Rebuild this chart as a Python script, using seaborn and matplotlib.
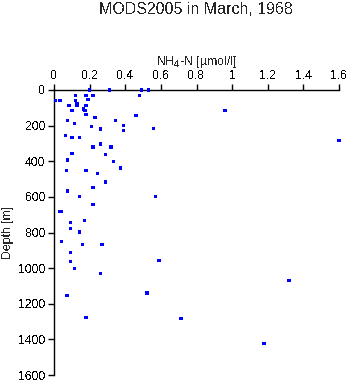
import matplotlib
matplotlib.use("Agg")
import matplotlib.pyplot as plt
import seaborn as sns
import pandas as pd

# NH4-N concentration (umol/l) and sampling depth (m)
nh4 = [0.20, 0.31, 0.49, 0.53, 0.12, 0.18, 0.22, 0.48, 0.01, 0.034,
       0.12, 0.19, 0.084, 0.13, 0.13, 0.18, 0.10, 0.165, 0.174, 0.18,
       0.46, 0.23, 0.075, 0.344, 0.114, 0.39, 0.21, 0.56, 0.26, 0.39,
       0.064, 0.10, 0.142, 0.26, 0.22, 0.32, 0.10, 0.29, 0.075, 0.333,
       0.372, 0.071, 0.18, 0.243, 0.29, 0.22, 0.075, 0.142, 0.57, 0.22,
       0.034, 0.04, 0.172, 0.094, 0.092, 0.142, 0.041, 0.16, 0.27, 0.092,
       0.59, 0.092, 0.114, 0.262, 0.523, 0.073, 0.18, 0.712, 0.96, 1.60,
       1.32, 1.18]
depth = [0, 0, 0, 0, 30, 30, 30, 30, 58, 58,
         58, 54, 86, 79, 86, 86, 114, 107, 116, 139,
         142, 153, 170, 170, 189, 198, 206, 215, 219, 227,
         255, 266, 266, 303, 320, 320, 356, 362, 393, 401,
         438, 451, 451, 468, 517, 547, 566, 597, 597, 642,
         681, 681, 732, 743, 777, 798, 850, 867, 867, 912,
         957, 962, 1002, 1030, 1140, 1153, 1277, 1283, 114, 283,
         1069, 1423]

x_ticks = [0, 0.2, 0.4, 0.6, 0.8, 1.0, 1.2, 1.4, 1.6]
x_tick_labels = ["0", "0.2", "0.4", "0.6", "0.8", "1", "1.2", "1.4", "1.6"]
y_ticks = [0, 200, 400, 600, 800, 1000, 1200, 1400, 1600]

df = pd.DataFrame({"nh4": nh4, "depth": depth})

sns.set_style("white")
plt.rcParams["font.family"] = ["Liberation Sans", "DejaVu Sans"]
plt.rcParams["text.antialiased"] = False

fig = plt.figure(figsize=(3.5, 3.84), dpi=100)
ax = fig.add_axes([54 / 350, 1 - 375 / 384, 285 / 350, 285 / 384])

sns.scatterplot(data=df, x="nh4", y="depth", ax=ax, marker="s", s=6,
                color="#0000ff", linewidth=0, edgecolor="none",
                clip_on=False, zorder=5)

ax.set_xlim(0, 1.6)
ax.set_ylim(1600, 0)
ax.xaxis.set_label_position("top")
ax.xaxis.tick_top()
ax.set_xticks(x_ticks)
ax.set_xticklabels(x_tick_labels)
ax.set_yticks(y_ticks)
ax.tick_params(axis="both", direction="out", length=4, width=1, labelsize=8.8,
               colors="black", pad=2)
ax.tick_params(axis="x", top=True, bottom=False)
ax.tick_params(axis="y", left=True)

for side in ["right", "bottom"]:
    ax.spines[side].set_visible(False)
for side in ["left", "top"]:
    ax.spines[side].set_visible(True)
    ax.spines[side].set_color("black")
    ax.spines[side].set_linewidth(1)

ax.set_xlabel("NH$_4$-N [µmol/l]", fontsize=8.8, labelpad=3)
ax.set_ylabel("Depth [m]", fontsize=8.8, labelpad=3)
ax.patch.set_alpha(0)

fig.text(0.56, 1 - 9 / 384, "MODS2005 in March, 1968", ha="center", va="center",
         fontsize=11.5)

fig.savefig("out.png", dpi=100, facecolor="white")
